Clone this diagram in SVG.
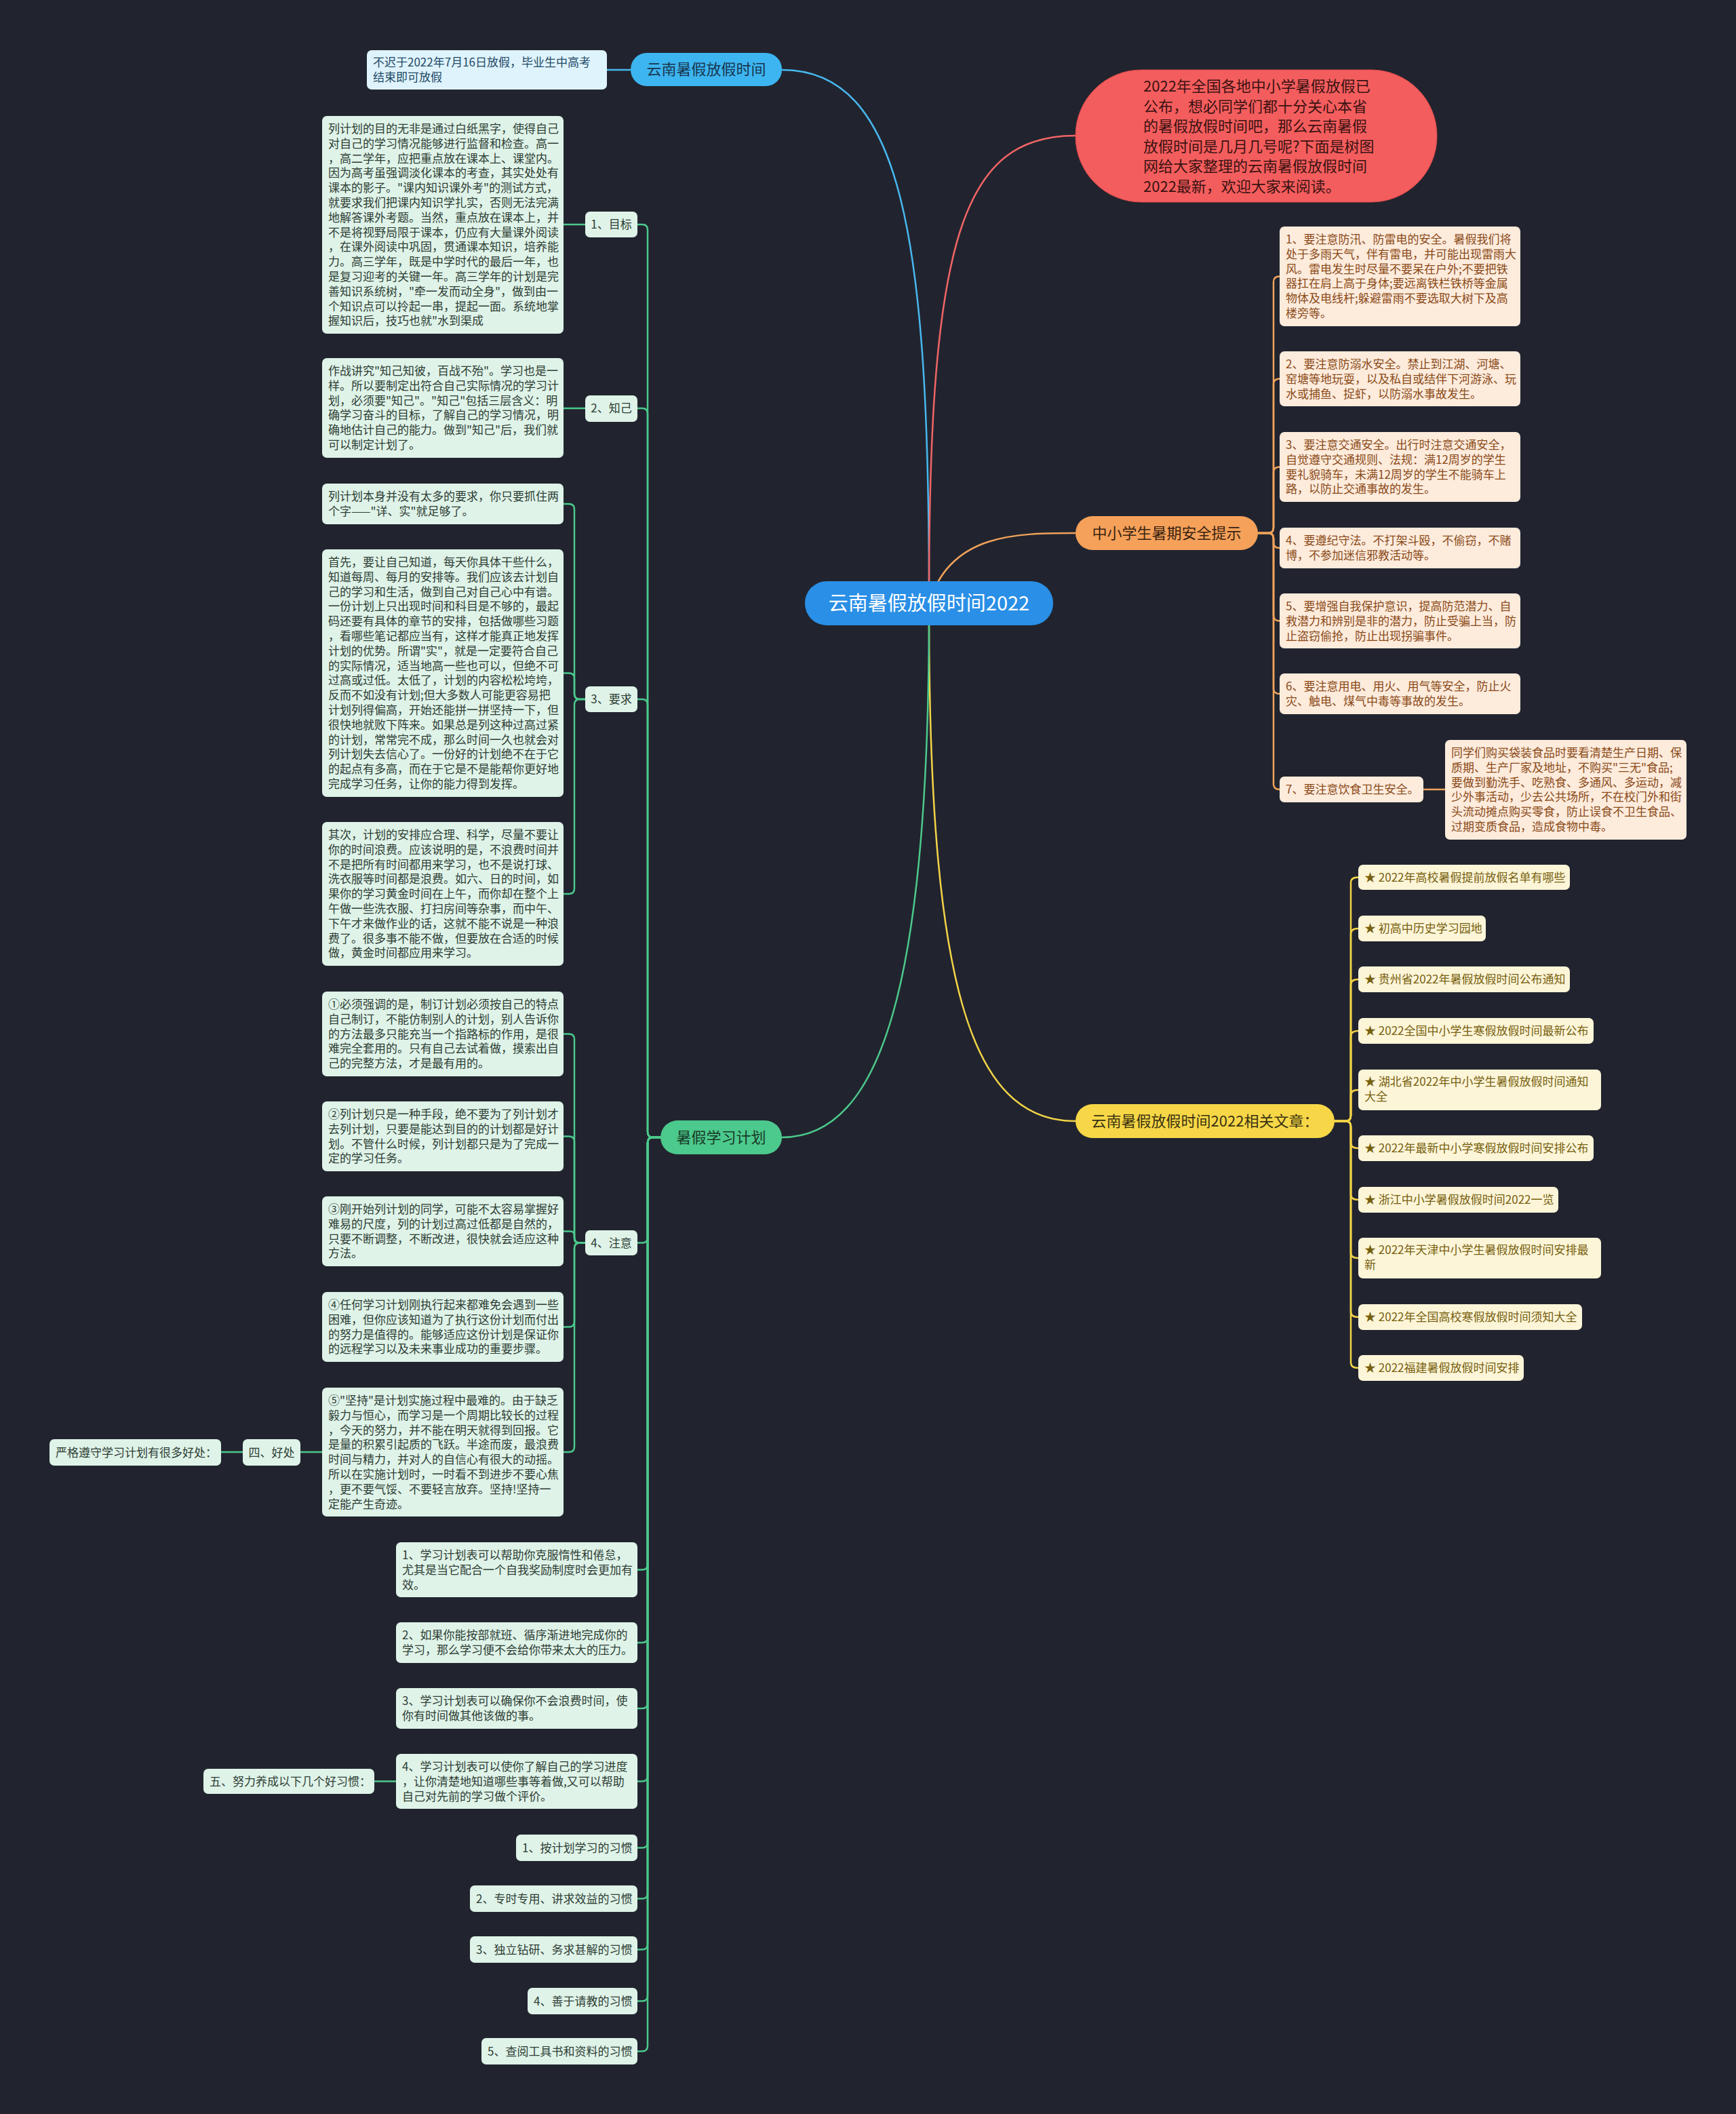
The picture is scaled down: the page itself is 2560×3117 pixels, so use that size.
<svg xmlns="http://www.w3.org/2000/svg" width="2560" height="3117" viewBox="0 0 2560 3117">
<defs>
<style>
text{font-family:'Noto Sans CJK SC','Noto Sans',sans-serif;}
.lg rect{fill:#dff3e8}.lg text{fill:#2e3d35;font-size:17px}
.lo rect{fill:#fdebdc}.lo text{fill:#8a4a18;font-size:17px}
.ly rect{fill:#fdf5d8}.ly text{fill:#76600f;font-size:17px}
.lb rect{fill:#dff3fc}.lb text{fill:#1e4966;font-size:17px}
.br text{font-size:22px}
.c{fill:none;stroke-width:2.5;stroke-linecap:round;stroke-linejoin:round}
.cg{stroke:#4cc98c}.co{stroke:#f0a25a}.cy{stroke:#f3d447}.cb{stroke:#48b8f0}.cr{stroke:#f06565}
</style>
</defs>
<rect width="2560" height="3117" fill="#21242f"/>

<g id="connectors">
<path class="c cb" d="M1370,880 C1370,350 1330,103 1153,103"/>
<path class="c cr" d="M1370,880 C1370,350 1420,200 1586,200"/>
<path class="c co" d="M1370,890 C1400,786 1500,786 1586,786"/>
<path class="c cy" d="M1370,900 C1370,1450 1430,1653 1586,1653"/>
<path class="c cg" d="M1370,900 C1370,1450 1300,1677 1153,1677"/>
<path class="c cb" d="M930,103 H895"/>
<!-- orange -->
<path class="c co" d="M1855,786 H1870 Q1878,786 1878,778 V415.5 Q1878,407.5 1887,407.5"/>
<path class="c co" d="M1855,786 H1870 Q1878,786 1878,778 V566.5 Q1878,558.5 1887,558.5"/>
<path class="c co" d="M1855,786 H1870 Q1878,786 1878,778 V696.5 Q1878,688.5 1887,688.5"/>
<path class="c co" d="M1855,786 H1870 Q1878,786 1878,794 V800 Q1878,808 1887,808"/>
<path class="c co" d="M1855,786 H1870 Q1878,786 1878,794 V907.5 Q1878,915.5 1887,915.5"/>
<path class="c co" d="M1855,786 H1870 Q1878,786 1878,794 V1015 Q1878,1023 1887,1023"/>
<path class="c co" d="M1855,786 H1870 Q1878,786 1878,794 V1156 Q1878,1164 1887,1164"/>
<path class="c co" d="M2099,1164 H2131"/>
<!-- yellow -->
<path class="c cy" d="M1968,1653 H1984 Q1992,1653 1992,1645 V1301.5 Q1992,1293.5 2003,1293.5"/>
<path class="c cy" d="M1968,1653 H1984 Q1992,1653 1992,1645 V1377 Q1992,1369 2003,1369"/>
<path class="c cy" d="M1968,1653 H1984 Q1992,1653 1992,1645 V1452 Q1992,1444 2003,1444"/>
<path class="c cy" d="M1968,1653 H1984 Q1992,1653 1992,1645 V1528 Q1992,1520 2003,1520"/>
<path class="c cy" d="M1968,1653 H1984 Q1992,1653 1992,1645 V1615 Q1992,1607 2003,1607"/>
<path class="c cy" d="M1968,1653 H1984 Q1992,1653 1992,1661 V1685 Q1992,1693 2003,1693"/>
<path class="c cy" d="M1968,1653 H1984 Q1992,1653 1992,1661 V1761 Q1992,1769 2003,1769"/>
<path class="c cy" d="M1968,1653 H1984 Q1992,1653 1992,1661 V1847 Q1992,1855 2003,1855"/>
<path class="c cy" d="M1968,1653 H1984 Q1992,1653 1992,1661 V1934 Q1992,1942 2003,1942"/>
<path class="c cy" d="M1968,1653 H1984 Q1992,1653 1992,1661 V2009 Q1992,2017 2003,2017"/>
<!-- green level 2 -->
<path class="c cg" d="M974,1677 H963 Q955,1677 955,1669 V339 Q955,331 947,331 H940"/>
<path class="c cg" d="M974,1677 H963 Q955,1677 955,1669 V610 Q955,602 947,602 H940"/>
<path class="c cg" d="M974,1677 H963 Q955,1677 955,1669 V1039 Q955,1031 947,1031 H940"/>
<path class="c cg" d="M974,1677 H963 Q955,1677 955,1685 V1824.5 Q955,1832.5 947,1832.5 H940"/>
<path class="c cg" d="M974,1677 H963 Q955,1677 955,1685 V2306.5 Q955,2314.5 947,2314.5 H940"/>
<path class="c cg" d="M974,1677 H963 Q955,1677 955,1685 V2414 Q955,2422 947,2422 H940"/>
<path class="c cg" d="M974,1677 H963 Q955,1677 955,1685 V2511 Q955,2519 947,2519 H940"/>
<path class="c cg" d="M974,1677 H963 Q955,1677 955,1685 V2618.5 Q955,2626.5 947,2626.5 H940"/>
<path class="c cg" d="M974,1677 H963 Q955,1677 955,1685 V2716.5 Q955,2724.5 947,2724.5 H940"/>
<path class="c cg" d="M974,1677 H963 Q955,1677 955,1685 V2791.5 Q955,2799.5 947,2799.5 H940"/>
<path class="c cg" d="M974,1677 H963 Q955,1677 955,1685 V2866.5 Q955,2874.5 947,2874.5 H940"/>
<path class="c cg" d="M974,1677 H963 Q955,1677 955,1685 V2942.5 Q955,2950.5 947,2950.5 H940"/>
<path class="c cg" d="M974,1677 H963 Q955,1677 955,1685 V3016.5 Q955,3024.5 947,3024.5 H940"/>
<!-- green level 3 -->
<path class="c cg" d="M863,331 H831"/>
<path class="c cg" d="M863,602 H831"/>
<path class="c cg" d="M863,1031 H855 Q847,1031 847,1023 V751 Q847,743 839,743 H831"/>
<path class="c cg" d="M863,1031 H855 Q847,1031 847,1023 V1000.5 Q847,992.5 839,992.5 H831"/>
<path class="c cg" d="M863,1031 H855 Q847,1031 847,1039 V1310 Q847,1318 839,1318 H831"/>
<path class="c cg" d="M863,1832.5 H855 Q847,1832.5 847,1824.5 V1532.5 Q847,1524.5 839,1524.5 H831"/>
<path class="c cg" d="M863,1832.5 H855 Q847,1832.5 847,1824.5 V1683.5 Q847,1675.5 839,1675.5 H831"/>
<path class="c cg" d="M863,1832.5 H853 Q847,1832.5 847,1826.5 V1821.5 Q847,1815.5 841,1815.5 H831"/>
<path class="c cg" d="M863,1832.5 H855 Q847,1832.5 847,1840.5 V1948.5 Q847,1956.5 839,1956.5 H831"/>
<path class="c cg" d="M863,1832.5 H855 Q847,1832.5 847,1840.5 V2133 Q847,2141 839,2141 H831"/>
<path class="c cg" d="M475,2141 H443"/>
<path class="c cg" d="M358,2141 H326"/>
<path class="c cg" d="M584,2626.5 H552"/>
</g>

<g id="root">
<rect x="1187" y="857" width="366" height="65" rx="32" fill="#2a8fe6"/>
<text x="1370" y="900" font-size="29" fill="#ffffff" text-anchor="middle">云南暑假放假时间2022</text>
</g>

<g id="intro">
<rect x="1586" y="103" width="533" height="195" rx="97" fill="#f45d5d" stroke="#d94848" stroke-width="1"/>
<text font-size="22" fill="#3a1212">
<tspan x="1686" y="135">2022年全国各地中小学暑假放假已</tspan>
<tspan x="1686" y="164.5">公布，想必同学们都十分关心本省</tspan>
<tspan x="1686" y="194">的暑假放假时间吧，那么云南暑假</tspan>
<tspan x="1686" y="223.5">放假时间是几月几号呢?下面是树图</tspan>
<tspan x="1686" y="253">网给大家整理的云南暑假放假时间</tspan>
<tspan x="1686" y="282.5">2022最新，欢迎大家来阅读。</tspan>
</text>
</g>

<g id="branch-time" class="br">
<rect x="930" y="78" width="223" height="49" rx="24" fill="#3db5f0"/>
<text x="1041.5" y="110" text-anchor="middle" fill="#173650">云南暑假放假时间</text>
</g>
<g id="time-leaf" class="lb">
<rect x="541" y="74" width="354" height="58" rx="7"/>
<text><tspan x="550" y="98">不迟于2022年7月16日放假，毕业生中高考</tspan><tspan x="550" y="120">结束即可放假</tspan></text>
</g>

<g id="branch-safety" class="br">
<rect x="1586" y="761" width="269" height="50" rx="25" fill="#f5a15a"/>
<text x="1720.5" y="794" text-anchor="middle" fill="#3a2210">中小学生暑期安全提示</text>
</g>
<g id="safety-1" class="lo">
<rect x="1887" y="334" width="355" height="147" rx="7"/>
<text><tspan x="1896" y="359">1、要注意防汛、防雷电的安全。暑假我们将</tspan><tspan x="1896" dy="21.8">处于多雨天气，伴有雷电，并可能出现雷雨大</tspan><tspan x="1896" dy="21.8">风。雷电发生时尽量不要呆在户外;不要把铁</tspan><tspan x="1896" dy="21.8">器扛在肩上高于身体;要远离铁栏铁桥等金属</tspan><tspan x="1896" dy="21.8">物体及电线杆;躲避雷雨不要选取大树下及高</tspan><tspan x="1896" dy="21.8">楼旁等。</tspan></text>
</g>
<g id="safety-2" class="lo">
<rect x="1887" y="518" width="355" height="81" rx="7"/>
<text><tspan x="1896" y="543">2、要注意防溺水安全。禁止到江湖、河塘、</tspan><tspan x="1896" dy="21.8">窑塘等地玩耍，以及私自或结伴下河游泳、玩</tspan><tspan x="1896" dy="21.8">水或捕鱼、捉虾，以防溺水事故发生。</tspan></text>
</g>
<g id="safety-3" class="lo">
<rect x="1887" y="637" width="355" height="103" rx="7"/>
<text><tspan x="1896" y="662">3、要注意交通安全。出行时注意交通安全，</tspan><tspan x="1896" dy="21.8">自觉遵守交通规则、法规：满12周岁的学生</tspan><tspan x="1896" dy="21.8">要礼貌骑车，未满12周岁的学生不能骑车上</tspan><tspan x="1896" dy="21.8">路，以防止交通事故的发生。</tspan></text>
</g>
<g id="safety-4" class="lo">
<rect x="1887" y="778" width="355" height="60" rx="7"/>
<text><tspan x="1896" y="803">4、要遵纪守法。不打架斗殴，不偷窃，不赌</tspan><tspan x="1896" dy="21.8">博，不参加迷信邪教活动等。</tspan></text>
</g>
<g id="safety-5" class="lo">
<rect x="1887" y="875" width="355" height="81" rx="7"/>
<text><tspan x="1896" y="900">5、要增强自我保护意识，提高防范潜力、自</tspan><tspan x="1896" dy="21.8">救潜力和辨别是非的潜力，防止受骗上当，防</tspan><tspan x="1896" dy="21.8">止盗窃偷抢，防止出现拐骗事件。</tspan></text>
</g>
<g id="safety-6" class="lo">
<rect x="1887" y="993" width="355" height="60" rx="7"/>
<text><tspan x="1896" y="1018">6、要注意用电、用火、用气等安全，防止火</tspan><tspan x="1896" dy="21.8">灾、触电、煤气中毒等事故的发生。</tspan></text>
</g>
<g id="safety-7" class="lo">
<rect x="1887" y="1145" width="212" height="38" rx="7"/>
<text x="1896" y="1170">7、要注意饮食卫生安全。</text>
</g>
<g id="safety-7-detail" class="lo">
<rect x="2131" y="1091" width="356" height="147" rx="7"/>
<text><tspan x="2140" y="1116">同学们购买袋装食品时要看清楚生产日期、保</tspan><tspan x="2140" dy="21.8">质期、生产厂家及地址，不购买"三无"食品;</tspan><tspan x="2140" dy="21.8">要做到勤洗手、吃熟食、多通风、多运动，减</tspan><tspan x="2140" dy="21.8">少外事活动，少去公共场所，不在校门外和街</tspan><tspan x="2140" dy="21.8">头流动摊点购买零食，防止误食不卫生食品、</tspan><tspan x="2140" dy="21.8">过期变质食品，造成食物中毒。</tspan></text>
</g>

<g id="branch-related" class="br">
<rect x="1586" y="1628" width="382" height="50" rx="25" fill="#f7d747"/>
<text x="1777" y="1661" text-anchor="middle" fill="#3a3210">云南暑假放假时间2022相关文章：</text>
</g>
<g id="rel-1" class="ly"><rect x="2003" y="1275" width="312" height="37" rx="7"/><text x="2012" y="1299.5">★ 2022年高校暑假提前放假名单有哪些</text></g>
<g id="rel-2" class="ly"><rect x="2003" y="1350" width="188" height="38" rx="7"/><text x="2012" y="1375">★ 初高中历史学习园地</text></g>
<g id="rel-3" class="ly"><rect x="2003" y="1425" width="312" height="38" rx="7"/><text x="2012" y="1450">★ 贵州省2022年暑假放假时间公布通知</text></g>
<g id="rel-4" class="ly"><rect x="2003" y="1501" width="347" height="38" rx="7"/><text x="2012" y="1526">★ 2022全国中小学生寒假放假时间最新公布</text></g>
<g id="rel-5" class="ly"><rect x="2003" y="1577" width="358" height="60" rx="7"/><text><tspan x="2012" y="1601">★ 湖北省2022年中小学生暑假放假时间通知</tspan><tspan x="2012" dy="21.8">大全</tspan></text></g>
<g id="rel-6" class="ly"><rect x="2003" y="1674" width="347" height="38" rx="7"/><text x="2012" y="1699">★ 2022年最新中小学寒假放假时间安排公布</text></g>
<g id="rel-7" class="ly"><rect x="2003" y="1750" width="295" height="38" rx="7"/><text x="2012" y="1775">★ 浙江中小学暑假放假时间2022一览</text></g>
<g id="rel-8" class="ly"><rect x="2003" y="1825" width="358" height="60" rx="7"/><text><tspan x="2012" y="1849">★ 2022年天津中小学生暑假放假时间安排最</tspan><tspan x="2012" dy="21.8">新</tspan></text></g>
<g id="rel-9" class="ly"><rect x="2003" y="1923" width="330" height="38" rx="7"/><text x="2012" y="1948">★ 2022年全国高校寒假放假时间须知大全</text></g>
<g id="rel-10" class="ly"><rect x="2003" y="1998" width="244" height="38" rx="7"/><text x="2012" y="2023">★ 2022福建暑假放假时间安排</text></g>

<g id="branch-plan" class="br">
<rect x="974" y="1652" width="179" height="50" rx="25" fill="#4cc98c"/>
<text x="1063.5" y="1685" text-anchor="middle" fill="#173a27">暑假学习计划</text>
</g>

<g id="plan-goal" class="lg"><rect x="863" y="312" width="77" height="38" rx="7"/><text x="901.5" y="337" text-anchor="middle">1、目标</text></g>
<g id="plan-know" class="lg"><rect x="863" y="583" width="77" height="39" rx="7"/><text x="901.5" y="608" text-anchor="middle">2、知己</text></g>
<g id="plan-req" class="lg"><rect x="863" y="1012" width="77" height="38" rx="7"/><text x="901.5" y="1037" text-anchor="middle">3、要求</text></g>
<g id="plan-note" class="lg"><rect x="863" y="1814" width="77" height="37" rx="7"/><text x="901.5" y="1838.5" text-anchor="middle">4、注意</text></g>

<g id="goal-text" class="lg">
<rect x="475" y="171" width="356" height="321" rx="7"/>
<text><tspan x="484" y="196">列计划的目的无非是通过白纸黑字，使得自己</tspan><tspan x="484" dy="21.8">对自己的学习情况能够进行监督和检查。高一</tspan><tspan x="484" dy="21.8">，高二学年，应把重点放在课本上、课堂内。</tspan><tspan x="484" dy="21.8">因为高考虽强调淡化课本的考查，其实处处有</tspan><tspan x="484" dy="21.8">课本的影子。"课内知识课外考"的测试方式，</tspan><tspan x="484" dy="21.8">就要求我们把课内知识学扎实，否则无法完满</tspan><tspan x="484" dy="21.8">地解答课外考题。当然，重点放在课本上，并</tspan><tspan x="484" dy="21.8">不是将视野局限于课本，仍应有大量课外阅读</tspan><tspan x="484" dy="21.8">，在课外阅读中巩固，贯通课本知识，培养能</tspan><tspan x="484" dy="21.8">力。高三学年，既是中学时代的最后一年，也</tspan><tspan x="484" dy="21.8">是复习迎考的关键一年。高三学年的计划是完</tspan><tspan x="484" dy="21.8">善知识系统树，"牵一发而动全身"，做到由一</tspan><tspan x="484" dy="21.8">个知识点可以拎起一串，提起一面。系统地掌</tspan><tspan x="484" dy="21.8">握知识后，技巧也就"水到渠成</tspan></text>
</g>
<g id="know-text" class="lg">
<rect x="475" y="528" width="356" height="147" rx="7"/>
<text><tspan x="484" y="553">作战讲究"知己知彼，百战不殆"。学习也是一</tspan><tspan x="484" dy="21.8">样。所以要制定出符合自己实际情况的学习计</tspan><tspan x="484" dy="21.8">划，必须要"知己"。"知己"包括三层含义：明</tspan><tspan x="484" dy="21.8">确学习奋斗的目标，了解自己的学习情况，明</tspan><tspan x="484" dy="21.8">确地估计自己的能力。做到"知己"后，我们就</tspan><tspan x="484" dy="21.8">可以制定计划了。</tspan></text>
</g>
<g id="req-1" class="lg">
<rect x="475" y="713" width="356" height="60" rx="7"/>
<text><tspan x="484" y="738">列计划本身并没有太多的要求，你只要抓住两</tspan><tspan x="484" dy="21.8">个字——"详、实"就足够了。</tspan></text>
</g>
<g id="req-2" class="lg">
<rect x="475" y="810" width="356" height="365" rx="7"/>
<text><tspan x="484" y="835">首先，要让自己知道，每天你具体干些什么，</tspan><tspan x="484" dy="21.8">知道每周、每月的安排等。我们应该去计划自</tspan><tspan x="484" dy="21.8">己的学习和生活，做到自己对自己心中有谱。</tspan><tspan x="484" dy="21.8">一份计划上只出现时间和科目是不够的，最起</tspan><tspan x="484" dy="21.8">码还要有具体的章节的安排，包括做哪些习题</tspan><tspan x="484" dy="21.8">，看哪些笔记都应当有，这样才能真正地发挥</tspan><tspan x="484" dy="21.8">计划的优势。所谓"实"，就是一定要符合自己</tspan><tspan x="484" dy="21.8">的实际情况，适当地高一些也可以，但绝不可</tspan><tspan x="484" dy="21.8">过高或过低。太低了，计划的内容松松垮垮，</tspan><tspan x="484" dy="21.8">反而不如没有计划;但大多数人可能更容易把</tspan><tspan x="484" dy="21.8">计划列得偏高，开始还能拼一拼坚持一下，但</tspan><tspan x="484" dy="21.8">很快地就败下阵来。如果总是列这种过高过紧</tspan><tspan x="484" dy="21.8">的计划，常常完不成，那么时间一久也就会对</tspan><tspan x="484" dy="21.8">列计划失去信心了。一份好的计划绝不在于它</tspan><tspan x="484" dy="21.8">的起点有多高，而在于它是不是能帮你更好地</tspan><tspan x="484" dy="21.8">完成学习任务，让你的能力得到发挥。</tspan></text>
</g>
<g id="req-3" class="lg">
<rect x="475" y="1212" width="356" height="212" rx="7"/>
<text><tspan x="484" y="1237">其次，计划的安排应合理、科学，尽量不要让</tspan><tspan x="484" dy="21.8">你的时间浪费。应该说明的是，不浪费时间并</tspan><tspan x="484" dy="21.8">不是把所有时间都用来学习，也不是说打球、</tspan><tspan x="484" dy="21.8">洗衣服等时间都是浪费。如六、日的时间，如</tspan><tspan x="484" dy="21.8">果你的学习黄金时间在上午，而你却在整个上</tspan><tspan x="484" dy="21.8">午做一些洗衣服、打扫房间等杂事，而中午、</tspan><tspan x="484" dy="21.8">下午才来做作业的话，这就不能不说是一种浪</tspan><tspan x="484" dy="21.8">费了。很多事不能不做，但要放在合适的时候</tspan><tspan x="484" dy="21.8">做，黄金时间都应用来学习。</tspan></text>
</g>
<g id="note-1" class="lg">
<rect x="475" y="1462" width="356" height="125" rx="7"/>
<text><tspan x="484" y="1487">①必须强调的是，制订计划必须按自己的特点</tspan><tspan x="484" dy="21.8">自己制订，不能仿制别人的计划，别人告诉你</tspan><tspan x="484" dy="21.8">的方法最多只能充当一个指路标的作用，是很</tspan><tspan x="484" dy="21.8">难完全套用的。只有自己去试着做，摸索出自</tspan><tspan x="484" dy="21.8">己的完整方法，才是最有用的。</tspan></text>
</g>
<g id="note-2" class="lg">
<rect x="475" y="1624" width="356" height="103" rx="7"/>
<text><tspan x="484" y="1649">②列计划只是一种手段，绝不要为了列计划才</tspan><tspan x="484" dy="21.8">去列计划，只要是能达到目的的计划都是好计</tspan><tspan x="484" dy="21.8">划。不管什么时候，列计划都只是为了完成一</tspan><tspan x="484" dy="21.8">定的学习任务。</tspan></text>
</g>
<g id="note-3" class="lg">
<rect x="475" y="1764" width="356" height="103" rx="7"/>
<text><tspan x="484" y="1789">③刚开始列计划的同学，可能不太容易掌握好</tspan><tspan x="484" dy="21.8">难易的尺度，列的计划过高过低都是自然的，</tspan><tspan x="484" dy="21.8">只要不断调整，不断改进，很快就会适应这种</tspan><tspan x="484" dy="21.8">方法。</tspan></text>
</g>
<g id="note-4" class="lg">
<rect x="475" y="1905" width="356" height="103" rx="7"/>
<text><tspan x="484" y="1930">④任何学习计划刚执行起来都难免会遇到一些</tspan><tspan x="484" dy="21.8">困难，但你应该知道为了执行这份计划而付出</tspan><tspan x="484" dy="21.8">的努力是值得的。能够适应这份计划是保证你</tspan><tspan x="484" dy="21.8">的远程学习以及未来事业成功的重要步骤。</tspan></text>
</g>
<g id="note-5" class="lg">
<rect x="475" y="2046" width="356" height="190" rx="7"/>
<text><tspan x="484" y="2071">⑤"坚持"是计划实施过程中最难的。由于缺乏</tspan><tspan x="484" dy="21.8">毅力与恒心，而学习是一个周期比较长的过程</tspan><tspan x="484" dy="21.8">，今天的努力，并不能在明天就得到回报。它</tspan><tspan x="484" dy="21.8">是量的积累引起质的飞跃。半途而废，最浪费</tspan><tspan x="484" dy="21.8">时间与精力，并对人的自信心有很大的动摇。</tspan><tspan x="484" dy="21.8">所以在实施计划时，一时看不到进步不要心焦</tspan><tspan x="484" dy="21.8">，更不要气馁、不要轻言放弃。坚持!坚持一</tspan><tspan x="484" dy="21.8">定能产生奇迹。</tspan></text>
</g>
<g id="benefit" class="lg"><rect x="358" y="2122" width="85" height="39" rx="7"/><text x="400.5" y="2147.5" text-anchor="middle">四、好处</text></g>
<g id="benefit-text" class="lg"><rect x="73" y="2122" width="253" height="39" rx="7"/><text x="82" y="2147.5">严格遵守学习计划有很多好处：</text></g>

<g id="table-1" class="lg">
<rect x="584" y="2274" width="356" height="81" rx="7"/>
<text><tspan x="593" y="2299">1、学习计划表可以帮助你克服惰性和倦怠，</tspan><tspan x="593" dy="21.8">尤其是当它配合一个自我奖励制度时会更加有</tspan><tspan x="593" dy="21.8">效。</tspan></text>
</g>
<g id="table-2" class="lg">
<rect x="584" y="2392" width="356" height="60" rx="7"/>
<text><tspan x="593" y="2417">2、如果你能按部就班、循序渐进地完成你的</tspan><tspan x="593" dy="21.8">学习，那么学习便不会给你带来太大的压力。</tspan></text>
</g>
<g id="table-3" class="lg">
<rect x="584" y="2489" width="356" height="60" rx="7"/>
<text><tspan x="593" y="2514">3、学习计划表可以确保你不会浪费时间，使</tspan><tspan x="593" dy="21.8">你有时间做其他该做的事。</tspan></text>
</g>
<g id="table-4" class="lg">
<rect x="584" y="2586" width="356" height="81" rx="7"/>
<text><tspan x="593" y="2611">4、学习计划表可以使你了解自己的学习进度</tspan><tspan x="593" dy="21.8">，让你清楚地知道哪些事等着做,又可以帮助</tspan><tspan x="593" dy="21.8">自己对先前的学习做个评价。</tspan></text>
</g>
<g id="habits" class="lg"><rect x="300" y="2608" width="252" height="37" rx="7"/><text x="309" y="2632.5">五、努力养成以下几个好习惯：</text></g>
<g id="habit-1" class="lg"><rect x="761" y="2705" width="179" height="39" rx="7"/><text x="770" y="2730.5">1、按计划学习的习惯</text></g>
<g id="habit-2" class="lg"><rect x="693" y="2780" width="247" height="39" rx="7"/><text x="702" y="2805.5">2、专时专用、讲求效益的习惯</text></g>
<g id="habit-3" class="lg"><rect x="693" y="2855" width="247" height="39" rx="7"/><text x="702" y="2880.5">3、独立钻研、务求甚解的习惯</text></g>
<g id="habit-4" class="lg"><rect x="778" y="2931" width="162" height="39" rx="7"/><text x="787" y="2956.5">4、善于请教的习惯</text></g>
<g id="habit-5" class="lg"><rect x="710" y="3005" width="230" height="39" rx="7"/><text x="719" y="3030.5">5、查阅工具书和资料的习惯</text></g>
</svg>
